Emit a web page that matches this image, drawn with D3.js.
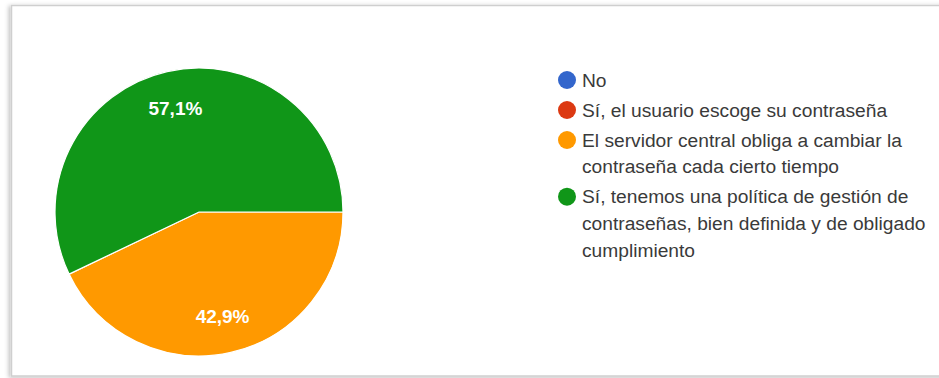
<!DOCTYPE html>
<html>
<head>
<meta charset="utf-8">
<script src="https://cdn.jsdelivr.net/npm/d3@7"></script>
<style>
  html, body { margin: 0; padding: 0; background: #ffffff; }
  svg { display: block; }
</style>
</head>
<body>
<svg id="chart" width="939" height="378"></svg>
<script>
// Survey answers, in legend order
const categories = [
  "No",
  "Sí, el usuario escoge su contraseña",
  "El servidor central obliga a cambiar la contraseña cada cierto tiempo",
  "Sí, tenemos una política de gestión de contraseñas, bien definida y de obligado cumplimiento"
];
const shares = [0, 0, 42.9, 57.1];
const colors = ["#3366cc", "#dc3912", "#ff9900", "#109618"];
// Legend entries broken into lines as they wrap in the legend column
const legendLines = [
  ["No"],
  ["Sí, el usuario escoge su contraseña"],
  ["El servidor central obliga a cambiar la", "contraseña cada cierto tiempo"],
  ["Sí, tenemos una política de gestión de", "contraseñas, bien definida y de obligado", "cumplimiento"]
];

const svg = d3.select("#chart");
const W = 939, H = 378;

// Card frame with a soft shadow
const defs = svg.append("defs");
const f = defs.append("filter").attr("id", "cardShadow")
  .attr("x", "-5%").attr("y", "-5%").attr("width", "110%").attr("height", "110%");
f.append("feDropShadow").attr("dx", -2).attr("dy", 1).attr("stdDeviation", 2)
  .attr("flood-color", "#000").attr("flood-opacity", 0.25);

svg.append("rect")
  .attr("x", 11.5).attr("y", 5.5).attr("width", W + 20).attr("height", 370.5)
  .attr("fill", "#ffffff").attr("stroke", "#cfcfcf").attr("stroke-width", 1.5)
  .attr("filter", "url(#cardShadow)");

// Pie
const cx = 199, cy = 212, r = 144;
const colorScale = d3.scaleOrdinal().domain(categories).range(colors);
const pie = d3.pie().sort(null).value(d => d.value)
  .startAngle(Math.PI / 2).endAngle(Math.PI / 2 + 2 * Math.PI);
const data = categories.map((c, i) => ({ name: c, value: shares[i] }));
const arcs = pie(data);
const arc = d3.arc().innerRadius(0).outerRadius(r);
const labelArc = d3.arc().innerRadius(r * 0.74).outerRadius(r * 0.74);

const g = svg.append("g").attr("transform", `translate(${cx},${cy})`);
g.selectAll("path.slice")
  .data(arcs.filter(d => d.data.value > 0))
  .join("path")
  .attr("class", "slice")
  .attr("d", arc)
  .attr("fill", d => colorScale(d.data.name))
  .attr("stroke", "#ffffff")
  .attr("stroke-width", 1.2);

g.selectAll("text.pct")
  .data(arcs.filter(d => d.data.value > 0))
  .join("text")
  .attr("class", "pct")
  .attr("transform", d => `translate(${labelArc.centroid(d)})`)
  .attr("text-anchor", "middle")
  .attr("dy", "0.35em")
  .attr("fill", "#ffffff")
  .attr("font-family", "Liberation Sans, Arial, sans-serif")
  .attr("font-size", 19)
  .attr("font-weight", "bold")
  .text(d => d3.format(".1f")(d.data.value).replace(".", ",") + "%");

// Legend
const legend = svg.append("g").attr("font-family", "Liberation Sans, Arial, sans-serif")
  .attr("font-size", 19.2).attr("fill", "#3a3a3a");
const lineH = 26.7, itemGap = 30;
let y = 80;
legendLines.forEach((lines, i) => {
  const item = legend.append("g");
  item.append("circle").attr("cx", 567).attr("cy", y).attr("r", 9)
    .attr("fill", colorScale(categories[i]));
  lines.forEach((t, j) => {
    item.append("text").attr("x", 582).attr("y", y + j * lineH)
      .attr("dy", "0.35em").text(t);
  });
  y += (lines.length - 1) * lineH + itemGap;
});
</script>
</body>
</html>
